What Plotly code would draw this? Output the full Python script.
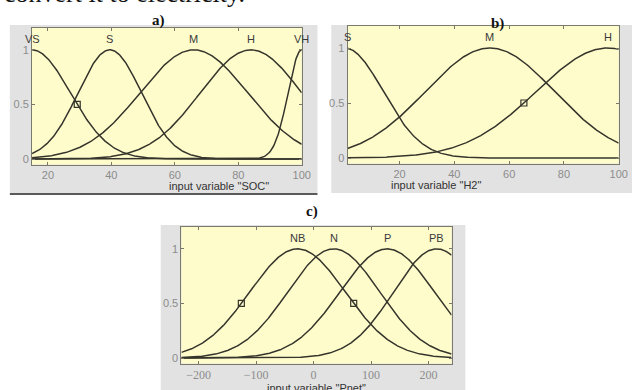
import numpy as np
import plotly.graph_objects as go

W, H = 641, 390

# Gaussian membership functions: centre and spread of each term
soc_range = [15, 100]
soc_names = ["VS", "S", "M", "H", "VH"]
soc_centers = [15, 39.5, 66, 84, 100]
soc_sigmas = [12.1, 10, 17, 16, 4.3]
soc_ticks = [20, 40, 60, 80, 100]

h2_range = [1, 100]
h2_names = ["S", "M", "H"]
h2_centers = [0, 53, 96]
h2_sigmas = [14, 23.5, 26]
h2_ticks = [20, 40, 60, 80, 100]

pnet_range = [-230, 240]
pnet_names = ["NB", "N", "P", "PB"]
pnet_centers = [-28, 35, 128, 214]
pnet_sigmas = [83, 80, 82, 75]
pnet_ticks = [-200, -100, 0, 100, 200]

y_ticks = [0, 0.5, 1]
y_range = [-0.05, 1.2]

CURVE = "#35352c"
BOX = "#7a7a6c"
TICKTXT = "#8c8c8c"
YELLOW = "#fffccc"
GRAY = "#e2e2e2"


def gaussmf(x, c, s):
    return np.exp(-((x - c) ** 2) / (2.0 * s ** 2))


def px(x):
    return x / W


def py(y):
    return 1 - y / H


fig = go.Figure()

panels = [
    # (suffix, range, names, centers, sigmas, ticks, domain x px, domain y px,
    #  title, title y px, selected term, tick font)
    ("", soc_range, soc_names, soc_centers, soc_sigmas, soc_ticks,
     (32.5, 306), (28, 164.5), 'input variable "SOC"', 186, 0, "Liberation Sans"),
    ("2", h2_range, h2_names, h2_centers, h2_sigmas, h2_ticks,
     (352.5, 627.5), (26, 163.5), 'input variable "H2"', 185, 2, "Liberation Sans"),
    ("3", pnet_range, pnet_names, pnet_centers, pnet_sigmas, pnet_ticks,
     (184, 458), (227, 363.5), 'input variable "Pnet"', 387.5, 0, "Liberation Serif"),
]

# panel frames: grey surround then the yellow axes face
frames = [((10, 322), (25, 193)), ((336, 641), (25, 193)), ((163, 472), (225, 390))]
shapes = []
for (fx, fy), p in zip(frames, panels):
    shapes.append(dict(type="rect", xref="paper", yref="paper",
                       x0=px(fx[0]), x1=px(fx[1]), y0=py(fy[1]), y1=py(fy[0]),
                       fillcolor=GRAY, line_width=0, layer="below"))
    dx, dy = p[6], p[7]
    shapes.append(dict(type="rect", xref="paper", yref="paper",
                       x0=px(dx[0]), x1=px(dx[1]), y0=py(dy[1]), y1=py(dy[0]),
                       fillcolor=YELLOW, line_width=0, layer="below"))
shapes.append(dict(type="line", xref="paper", yref="paper",
                   x0=px(10), x1=px(322), y0=py(194), y1=py(194),
                   line=dict(color="#5a5a5a", width=2)))

annotations = []
for suffix, rng, names, centers, sigmas, ticks, dx, dy, title, ty, sel, tfont in panels:
    xa = "x" + suffix
    ya = "y" + suffix
    xs = np.linspace(rng[0], rng[1], 400)
    for name, c, s in zip(names, centers, sigmas):
        fig.add_trace(go.Scatter(x=xs, y=gaussmf(xs, c, s), mode="lines",
                                 line=dict(color=CURVE, width=1.5),
                                 xaxis=xa, yaxis=ya, showlegend=False,
                                 hoverinfo="skip"))
        annotations.append(dict(x=min(max(c, rng[0]), rng[1]), y=1.1, xref=xa, yref=ya,
                                text=name, showarrow=False,
                                font=dict(family="Liberation Sans", size=11, color="#3a3a3a")))
    # half-height handles of the selected term
    c, s = centers[sel], sigmas[sel]
    half = s * np.sqrt(2 * np.log(2))
    hx = [v for v in (c - half, c + half) if rng[0] < v < rng[1]]
    fig.add_trace(go.Scatter(x=hx, y=[0.5] * len(hx), mode="markers",
                             marker=dict(symbol="square-open", size=6,
                                         color=CURVE, line=dict(width=1.2)),
                             xaxis=xa, yaxis=ya, showlegend=False, hoverinfo="skip"))
    axis_common = dict(showgrid=False, zeroline=False, showline=True, mirror="ticks",
                       linecolor=BOX, linewidth=1, ticks="inside", ticklen=3,
                       tickcolor=BOX)
    fig.update_layout(**{
        "xaxis" + suffix: dict(domain=[px(dx[0]), px(dx[1])], range=rng, anchor=ya,
                               tickvals=ticks,
                               tickfont=dict(family=tfont, size=11 if tfont.endswith("Sans") else 12,
                                             color=TICKTXT),
                               **axis_common),
        "yaxis" + suffix: dict(domain=[py(dy[1]), py(dy[0])], range=y_range, anchor=xa,
                               tickvals=y_ticks, ticktext=["0", "0.5", "1"],
                               tickfont=dict(family="Liberation Sans", size=11, color=TICKTXT),
                               **axis_common),
    })
    annotations.append(dict(x=px((dx[0] + dx[1]) / 2), y=py(ty),
                            xref="paper", yref="paper", text=title, showarrow=False,
                            yanchor="middle",
                            font=dict(family="Liberation Sans", size=11, color="#333333")))

# panel letters
for letter, xp, yp in [("a)", 152, 10), ("b)", 513, 13), ("c)", 316, 212)]:
    annotations.append(dict(x=px(xp), y=py(yp), xref="paper", yref="paper",
                            text="<b>" + letter + "</b>", showarrow=False,
                            font=dict(family="Liberation Serif", size=15, color="#111111")))

# tail of the running text above the figure
annotations.append(dict(x=px(2), y=py(-7), xref="paper", yref="paper",
                        text="convert it to electricity.", showarrow=False,
                        xanchor="left", yanchor="middle",
                        font=dict(family="Liberation Serif", size=26, color="#111111")))

fig.update_layout(width=W, height=H, margin=dict(l=0, r=0, t=0, b=0),
                  paper_bgcolor="white", plot_bgcolor="rgba(0,0,0,0)",
                  shapes=shapes, annotations=annotations)

fig.write_html("out.html")
